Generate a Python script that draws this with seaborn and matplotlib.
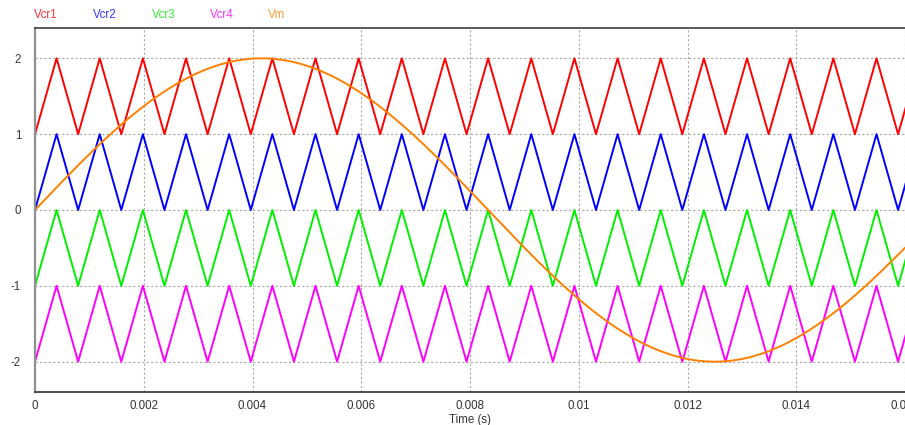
import numpy as np
import pandas as pd
import matplotlib
matplotlib.use("Agg")
import matplotlib.pyplot as plt
import seaborn as sns

# Simulation settings: carrier-based PWM references
t_end = 0.016                      # s
carrier_freq = 1260.0              # Hz (21 x 60 Hz)
carrier_names = ["Vcr1", "Vcr2", "Vcr3", "Vcr4"]
carrier_low = [1.0, 0.0, -1.0, -2.0]   # bottom of each level-shifted carrier
carrier_high = [2.0, 1.0, 0.0, -1.0]   # top of each carrier
vm_amp = 2.0                        # modulating wave peak
vm_freq = 60.0                      # Hz
colors = {"Vcr1": "#ff0000", "Vcr2": "#0000ff", "Vcr3": "#00f000",
          "Vcr4": "#ff00ff", "Vm": "#ff8000"}
x_ticks = [0, 0.002, 0.004, 0.006, 0.008, 0.01, 0.012, 0.014, 0.016]
x_tick_labels = ["0", "0.002", "0.004", "0.006", "0.008", "0.01", "0.012", "0.014", "0.016"]
y_ticks = [-2, -1, 0, 1, 2]

# Build long-form table: triangle carriers from their vertices, Vm sampled finely
frames = []
half = 0.5 / carrier_freq
vert_t = np.arange(0, t_end + 2 * half, half)
for name, lo, hi in zip(carrier_names, carrier_low, carrier_high):
    v = np.where(np.arange(len(vert_t)) % 2 == 0, lo, hi)
    frames.append(pd.DataFrame({"t": vert_t, "v": v, "signal": name}))
t_fine = np.linspace(0, t_end + 0.0002, 3000)
frames.append(pd.DataFrame({"t": t_fine,
                            "v": vm_amp * np.sin(2 * np.pi * vm_freq * t_fine),
                            "signal": "Vm"}))
df = pd.concat(frames, ignore_index=True)

sns.set_theme(style="white")
plt.rcParams["font.family"] = ["Liberation Sans", "DejaVu Sans"]

fig = plt.figure(figsize=(9.05, 4.25), dpi=100)
ax = fig.add_axes([35 / 905, (425 - 392) / 425, (905 - 35) / 905, (392 - 28) / 425])

sns.lineplot(data=df, x="t", y="v", hue="signal", palette=colors,
             estimator=None, sort=False, legend=False, linewidth=1.4, ax=ax)

ax.set_xlim(0, t_end)
ax.set_ylim(-2.4, 2.4)
ax.set_xticks(x_ticks)
ax.set_xticklabels(x_tick_labels)
ax.set_yticks(y_ticks)
ax.set_yticklabels([str(v) for v in y_ticks])
ax.tick_params(axis="both", length=0, labelsize=8.3, labelcolor="#333333")
ax.tick_params(axis="x", pad=6)
ax.tick_params(axis="y", pad=10)
ax.grid(True, color="#a8a8a8", linestyle=(0, (2, 2)), linewidth=0.8)
ax.set_axisbelow(True)
ax.set_xlabel("Time (s)", fontsize=8.3, color="#333333", labelpad=1)
ax.set_ylabel("")

ax.spines["left"].set_color("#909090")
ax.spines["left"].set_linewidth(1.6)
ax.spines["bottom"].set_color("#303030")
ax.spines["bottom"].set_linewidth(1.2)
ax.spines["top"].set_color("#404040")
ax.spines["top"].set_linewidth(1.2)
ax.spines["right"].set_visible(False)

# Signal names above the plot, coloured like their traces
label_x = [46, 105, 164, 222, 277]
for name, xp in zip(carrier_names + ["Vm"], label_x):
    fig.text(xp / 905, 1 - 15 / 425, name, color=colors[name], fontsize=8.3,
             ha="center", va="center", alpha=0.8)

fig.savefig("out.png", dpi=100)
